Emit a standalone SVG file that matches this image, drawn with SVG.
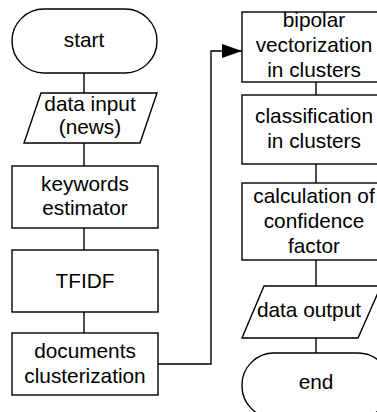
<svg xmlns="http://www.w3.org/2000/svg" width="377" height="412" viewBox="0 0 377 412">
<defs>
<style>
.s{fill:#fff;stroke:#000;stroke-width:1.4}
.c{fill:none;stroke:#000;stroke-width:1.4}
text{font-family:"Liberation Sans",Arial,sans-serif;font-size:20.8px;fill:#000;text-anchor:middle}
</style>
<marker id="ah" markerWidth="20" markerHeight="14" refX="20" refY="7" orient="auto" markerUnits="userSpaceOnUse">
<path d="M0,0 L20,7 L0,14 Z" fill="#000"/>
</marker>
</defs>
<rect width="377" height="412" fill="#fff"/>
<g id="connectors">
<line class="c" x1="84" y1="73" x2="84" y2="93"/>
<line class="c" x1="84" y1="143" x2="84" y2="166"/>
<line class="c" x1="84" y1="228" x2="84" y2="250"/>
<line class="c" x1="84" y1="312" x2="84" y2="333"/>
<polyline class="c" points="158,364 211,364 211,51 242,51" marker-end="url(#ah)"/>
<line class="c" x1="316" y1="82" x2="316" y2="95"/>
<line class="c" x1="316" y1="164" x2="316" y2="183"/>
<line class="c" x1="316" y1="260" x2="316" y2="286"/>
<line class="c" x1="316" y1="338" x2="316" y2="353"/>
</g>
<g id="start">
<rect class="s" x="12" y="9" width="145" height="64" rx="32" ry="32"/>
<text x="84" y="47">start</text>
</g>
<g id="data-input">
<polygon class="s" points="41,93 157,93 140,143 24,143"/>
<text x="90" y="111">data input</text>
<text x="90" y="134">(news)</text>
</g>
<g id="keywords">
<rect class="s" x="12" y="166" width="146" height="62"/>
<text x="85" y="191">keywords</text>
<text x="85" y="215">estimator</text>
</g>
<g id="tfidf">
<rect class="s" x="12" y="250" width="146" height="62"/>
<text x="85" y="288">TFIDF</text>
</g>
<g id="documents">
<rect class="s" x="12" y="333" width="146" height="62"/>
<text x="85" y="358">documents</text>
<text x="85" y="383">clusterization</text>
</g>
<g id="bipolar">
<rect class="s" x="242" y="12" width="148" height="70"/>
<text x="314" y="27">bipolar</text>
<text x="314" y="52">vectorization</text>
<text x="314" y="77">in clusters</text>
</g>
<g id="classification">
<rect class="s" x="242" y="95" width="148" height="69"/>
<text x="314" y="123">classification</text>
<text x="314" y="148">in clusters</text>
</g>
<g id="calculation">
<rect class="s" x="242" y="183" width="148" height="77"/>
<text x="314" y="203">calculation of</text>
<text x="314" y="228">confidence</text>
<text x="314" y="253">factor</text>
</g>
<g id="data-output">
<polygon class="s" points="264,286 381,286 358,338 242,338"/>
<text x="309" y="317">data output</text>
</g>
<g id="end">
<rect class="s" x="242" y="353" width="148" height="65" rx="32" ry="32"/>
<text x="316" y="389">end</text>
</g>
</svg>
